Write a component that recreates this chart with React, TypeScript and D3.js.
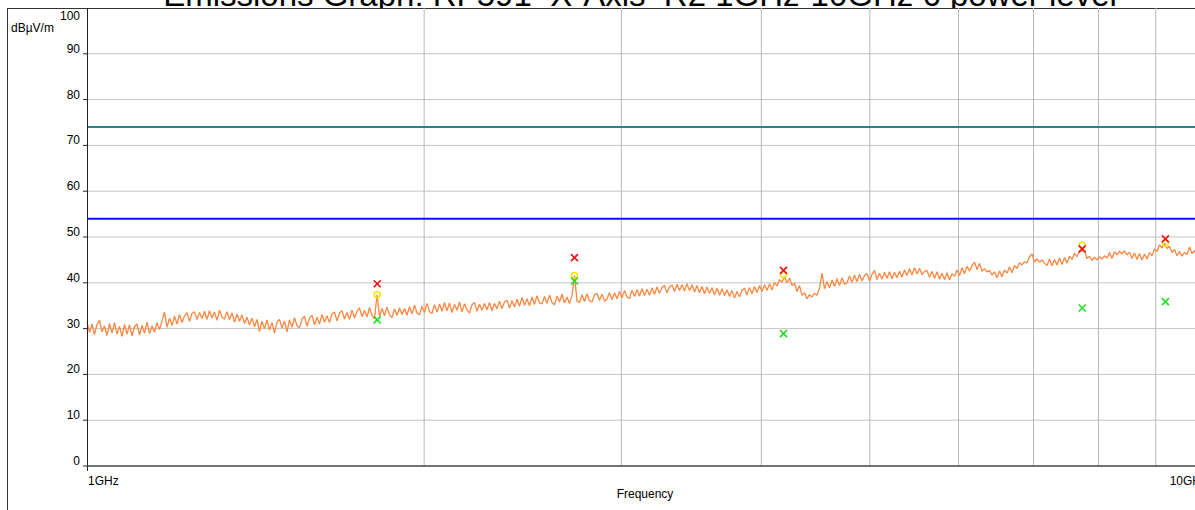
import React from "react";
import * as d3 from "d3";

// ---- Data ----
const titleText = "Emissions Graph: RF591_X-Axis_R2 1GHz-10GHz 6 power level";
const yTicks = [0, 10, 20, 30, 40, 50, 60, 70, 80, 90, 100];
const xGridGHz = [2, 3, 4, 5, 6, 7, 8, 9];
const xLabels = [
  { f: 1e9, text: "1GHz", anchor: "start" },
  { f: 1e10, text: "10GHz", anchor: "end" },
];
const limitHigh = 74; // teal limit line
const limitLow = 54; // blue limit line

// Trace sampled on a log sweep from 1 GHz to 10 GHz (449 points), dBµV/m
const traceValues = [
  31.4, 29.2, 31.0, 28.7, 30.9, 31.8, 29.3, 30.6, 28.5, 31.1, 29.0, 31.3, 28.8, 30.5, 28.3, 30.9,
  28.8, 30.8, 28.4, 30.4, 31.0, 28.6, 30.7, 29.0, 31.4, 28.9, 30.6, 29.2, 31.3, 29.8, 31.7, 33.6,
  30.3, 32.3, 30.7, 32.7, 31.0, 33.1, 31.3, 32.8, 33.5, 31.6, 33.3, 33.7, 32.0, 33.5, 32.2, 33.8,
  32.0, 33.9, 32.3, 33.6, 31.8, 34.0, 32.5, 32.1, 33.7, 31.9, 33.4, 31.4, 33.2, 31.6, 33.0, 31.1,
  32.5, 30.8, 32.3, 30.4, 32.0, 29.4, 31.6, 30.0, 31.9, 29.7, 31.3, 29.0, 31.4, 32.0, 30.1, 31.7,
  29.3, 31.9, 30.3, 32.4, 30.6, 30.2, 32.1, 32.7, 30.5, 32.3, 32.9, 30.8, 32.5, 31.0, 33.1, 31.4,
  32.8, 31.3, 33.2, 33.6, 31.7, 33.4, 33.9, 32.1, 33.5, 32.0, 34.1, 32.3, 33.8, 34.5, 32.6, 34.0,
  32.5, 34.6, 32.9, 32.1, 37.4, 32.7, 34.4, 32.8, 34.7, 33.0, 32.4, 34.3, 32.9, 34.5, 33.1, 34.4,
  32.9, 34.8, 33.2, 35.1, 33.4, 33.0, 34.9, 33.5, 35.5, 33.7, 33.3, 35.2, 33.6, 35.4, 33.8, 35.7,
  33.9, 35.6, 33.5, 35.3, 34.0, 35.8, 33.7, 35.4, 34.1, 33.4, 35.2, 35.7, 33.8, 35.3, 34.0, 35.5,
  34.1, 35.7, 33.9, 35.5, 34.3, 36.0, 34.4, 35.8, 36.2, 34.5, 36.1, 34.7, 36.4, 34.9, 36.8, 35.1,
  36.5, 35.0, 36.9, 35.3, 37.2, 35.6, 35.4, 37.0, 35.5, 37.3, 35.7, 35.2, 37.1, 35.8, 37.5, 35.6,
  36.9, 35.5, 37.3, 41.6, 36.0, 35.7, 37.4, 35.9, 37.6, 36.1, 35.8, 37.4, 37.7, 36.2, 37.5, 36.0,
  36.4, 37.9, 36.3, 37.8, 36.5, 38.1, 36.7, 38.3, 36.9, 36.6, 38.4, 37.0, 38.5, 37.1, 38.7, 37.2,
  38.6, 37.3, 38.9, 37.5, 39.1, 37.7, 39.0, 39.4, 37.8, 39.2, 39.5, 38.1, 39.7, 38.3, 39.6, 38.2,
  39.8, 38.3, 39.6, 38.0, 39.4, 37.8, 39.2, 37.6, 39.1, 37.7, 38.9, 37.4, 38.8, 37.3, 38.7, 37.2,
  38.5, 37.0, 38.3, 36.7, 38.1, 36.9, 38.4, 38.8, 37.3, 39.0, 37.6, 39.2, 37.9, 39.4, 38.1, 39.6,
  38.3, 39.8, 38.4, 40.1, 39.3, 40.7, 40.1, 41.3, 40.0, 41.0, 39.4, 39.9, 38.1, 39.4, 37.3, 37.8,
  36.5, 37.4, 36.9, 37.7, 37.3, 38.8, 42.1, 38.7, 40.3, 38.9, 40.6, 39.2, 40.9, 39.4, 41.1, 39.7,
  40.0, 41.5, 40.1, 41.7, 40.3, 41.9, 40.4, 41.6, 42.0, 40.4, 41.8, 42.7, 40.7, 42.1, 40.8, 42.3,
  41.0, 42.4, 40.9, 42.3, 41.1, 42.5, 41.2, 42.8, 41.6, 43.1, 41.7, 43.3, 41.9, 43.2, 41.8, 42.5,
  42.7, 41.2, 42.5, 41.0, 42.4, 40.8, 42.1, 40.7, 42.2, 40.6, 42.0, 41.4, 42.8, 41.6, 43.3, 42.0,
  43.6, 42.6, 43.7, 44.5, 42.9, 44.2, 42.5, 43.1, 42.4, 42.7, 41.7, 42.4, 41.1, 42.6, 41.3, 42.8,
  42.1, 43.5, 42.2, 43.8, 43.1, 44.4, 43.9, 44.6, 44.3, 45.7, 46.3, 44.6, 45.2, 44.5, 45.0, 44.3,
  43.8, 45.2, 43.7, 45.1, 43.9, 45.4, 44.0, 45.5, 44.3, 45.8, 45.1, 46.4, 45.7, 46.9, 46.9, 47.0,
  45.3, 45.8, 44.9, 45.6, 45.0, 45.7, 45.2, 45.9, 45.4, 46.6, 45.3, 46.8, 46.1, 46.9, 46.3, 47.0,
  46.1, 46.7, 45.3, 46.5, 45.1, 46.4, 45.0, 46.3, 45.2, 46.6, 45.9, 47.4, 46.8, 48.3, 47.6, 48.6,
  47.5, 48.0, 46.6, 47.3, 45.9, 46.8, 45.8, 46.6, 46.2, 47.8, 46.4, 47.0, 45.7, 47.1, 45.8, 46.9,
  46.4,
];

// Measured points
const markerFreqGHz = [1.816, 2.724, 4.187, 7.737, 9.18];
const peakValues = [39.8, 45.5, 42.7, 47.4, 49.6];
const qpValues = [37.4, 41.6, 41.8, 48.2, 48.7];
const avgValues = [31.9, 40.4, 28.9, 34.5, 35.9];

const FONT = "'Liberation Sans', Arial, sans-serif";

export default function App() {
  const width = 1195;
  const height = 510;
  const left = 87;
  const right = 1207;
  const top = 8;
  const bottom = 466;

  const x = d3.scaleLog().domain([1e9, 1e10]).range([left, right]);
  const y = d3.scaleLinear().domain([0, 100]).range([bottom, top]);

  const n = traceValues.length;
  const traceData = traceValues.map((v, i) => ({
    f: 1e9 * Math.pow(10, i / (n - 1)),
    v,
  }));
  const line = d3
    .line<{ f: number; v: number }>()
    .x((d) => x(d.f))
    .y((d) => y(d.v));

  const cross = (cx: number, cy: number, color: string, key: string) => (
    <g key={key} stroke={color} strokeWidth={1.6}>
      <line x1={cx - 3.5} y1={cy - 3.5} x2={cx + 3.5} y2={cy + 3.5} />
      <line x1={cx - 3.5} y1={cy + 3.5} x2={cx + 3.5} y2={cy - 3.5} />
    </g>
  );

  return (
    <svg
      width={width}
      height={height}
      style={{ position: "absolute", left: 0, top: 0, background: "#fff" }}
      fontFamily={FONT}
    >
      <rect x={0} y={0} width={width} height={height} fill="#fff" />
      {/* title */}
      <text x={640} y={6} textAnchor="middle" fontSize={33} fill="#000">
        {titleText}
      </text>
      {/* outer frame */}
      <rect x={7.5} y={8.5} width={width + 10} height={height + 10} fill="#fff" stroke="#333" strokeWidth={1} />
      {/* horizontal grid */}
      {yTicks
        .filter((t) => t > 0 && t < 100)
        .map((t) => (
          <line key={"hg" + t} x1={left} x2={width} y1={y(t)} y2={y(t)} stroke="#c4c4c4" strokeWidth={1} />
        ))}
      {/* vertical grid */}
      {xGridGHz.map((g) => (
        <line key={"vg" + g} x1={x(g * 1e9)} x2={x(g * 1e9)} y1={top} y2={bottom} stroke="#b8b8b8" strokeWidth={1} />
      ))}
      {/* limit lines */}
      <line x1={left} x2={width} y1={y(limitHigh)} y2={y(limitHigh)} stroke="#23878a" strokeWidth={2} />
      <line x1={left} x2={width} y1={y(limitLow)} y2={y(limitLow)} stroke="#1010ee" strokeWidth={2} />
      {/* trace */}
      <path d={line(traceData) || ""} fill="none" stroke="#fb8741" strokeWidth={1.3} strokeLinejoin="bevel" />
      {/* markers */}
      {markerFreqGHz.map((f, i) => (
        <circle key={"qp" + i} cx={x(f * 1e9)} cy={y(qpValues[i])} r={3} fill="none" stroke="#f2e600" strokeWidth={1.5} />
      ))}
      {markerFreqGHz.map((f, i) => cross(x(f * 1e9), y(avgValues[i]), "#22dd22", "av" + i))}
      {markerFreqGHz.map((f, i) => cross(x(f * 1e9), y(peakValues[i]), "#ee1111", "pk" + i))}
      {/* axes */}
      <line x1={left + 0.5} x2={left + 0.5} y1={top} y2={bottom + 5} stroke="#222" strokeWidth={1} />
      <line x1={left} x2={width} y1={bottom} y2={bottom} stroke="#444" strokeWidth={1.5} />
      {yTicks.map((t) => (
        <g key={"yt" + t}>
          {t < 100 && <line x1={left - 4} x2={left} y1={y(t)} y2={y(t)} stroke="#222" strokeWidth={1} />}
          <text
            x={80}
            y={t === 100 ? 20 : y(t) - 1}
            textAnchor="end"
            fontSize={12}
            fill="#000"
          >
            {t}
          </text>
        </g>
      ))}
      <text x={11} y={32} fontSize={12} fill="#000">
        dBµV/m
      </text>
      {xLabels.map((l) => (
        <text key={l.text} x={l.anchor === "start" ? x(l.f) + 1 : x(l.f)} y={485} textAnchor={l.anchor} fontSize={12} fill="#000">
          {l.text}
        </text>
      ))}
      <text x={645} y={498} textAnchor="middle" fontSize={12} fill="#000">
        Frequency
      </text>
    </svg>
  );
}
